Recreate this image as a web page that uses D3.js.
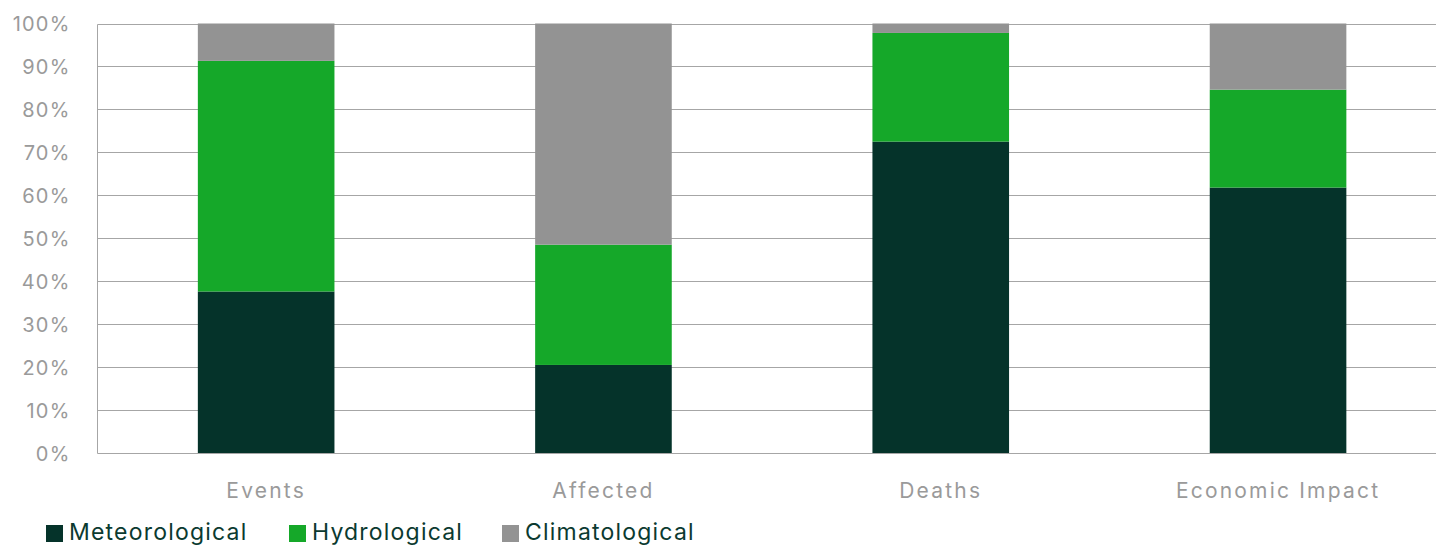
<!DOCTYPE html>
<html>
<head>
<meta charset="utf-8">
<script src="https://cdn.jsdelivr.net/npm/d3@7"></script>
<style>
  html, body { margin: 0; padding: 0; background: #fff; overflow: hidden; }
  svg { display: block; }
</style>
</head>
<body>
<svg id="chart" width="1436" height="546"></svg>
<script>
// Share of disasters by type (percent of total per measure)
const categories = ["Events", "Affected", "Deaths", "Economic Impact"];
const meteorological = [37.6, 20.5, 72.5, 61.8];
const hydrological   = [53.7, 28.0, 25.3, 22.8];
const climatological = [8.7, 51.5, 2.2, 15.4];
const seriesNames = ["Meteorological", "Hydrological", "Climatological"];
const seriesColors = ["#05332a", "#15a829", "#939393"];
const yTicks = [0, 10, 20, 30, 40, 50, 60, 70, 80, 90, 100];

const rows = categories.map((c, i) => ({
  category: c,
  Meteorological: meteorological[i],
  Hydrological: hydrological[i],
  Climatological: climatological[i]
}));

const svg = d3.select("#chart");
const W = 1436;
const plotLeft = 97.5, plotRight = 1446.7, plotTop = 23.5, plotBottom = 453;

const x = d3.scaleBand()
  .domain(categories)
  .range([plotLeft, plotRight])
  .paddingInner(0.595)
  .paddingOuter(0.2975);

const y = d3.scaleLinear().domain([0, 100]).range([plotBottom, plotTop]);

const font = "Inter, 'Noto Sans', sans-serif";

// Gridlines
svg.append("g")
  .selectAll("line")
  .data(yTicks)
  .join("line")
  .attr("x1", plotLeft)
  .attr("x2", W)
  .attr("y1", d => Math.round(y(d)) + 0.5)
  .attr("y2", d => Math.round(y(d)) + 0.5)
  .attr("stroke", "#a6a6a6")
  .attr("stroke-width", 1);

// Left axis line
svg.append("line")
  .attr("x1", plotLeft).attr("x2", plotLeft)
  .attr("y1", Math.round(y(100)) + 0.5).attr("y2", Math.round(y(0)) + 0.5)
  .attr("stroke", "#a6a6a6");

// Y-axis labels
const yAxis = d3.axisLeft(y).tickValues(yTicks).tickFormat(d => d + "%").tickSize(0).tickPadding(27);
const yg = svg.append("g").attr("transform", `translate(${plotLeft},0)`).call(yAxis);
yg.select(".domain").remove();
yg.selectAll("text")
  .attr("fill", "#9a9a9a")
  .style("font-family", font)
  .style("font-size", "20px")
  .style("letter-spacing", "1.2px")
  .attr("dy", "0.35em");

// Stacked bars
const stack = d3.stack().keys(seriesNames);
const layers = stack(rows);

svg.append("g")
  .selectAll("g")
  .data(layers)
  .join("g")
  .attr("fill", (d, i) => seriesColors[i])
  .selectAll("rect")
  .data(d => d)
  .join("rect")
  .attr("x", d => x(d.data.category))
  .attr("width", x.bandwidth())
  .attr("y", d => y(d[1]))
  .attr("height", d => y(d[0]) - y(d[1]));

// X-axis labels
const xAxis = d3.axisBottom(x).tickSize(0).tickPadding(30);
const xg = svg.append("g").attr("transform", `translate(0,${plotBottom})`).call(xAxis);
xg.select(".domain").remove();
xg.selectAll("text")
  .attr("fill", "#9a9a9a")
  .style("font-family", font)
  .style("font-size", "21px")
  .style("letter-spacing", "2.2px");

// Legend
const legendX = [46, 289, 502];
const lg = svg.append("g")
  .selectAll("g")
  .data(seriesNames)
  .join("g")
  .attr("transform", (d, i) => `translate(${legendX[i]},525)`);
lg.append("rect")
  .attr("width", 17).attr("height", 17)
  .attr("fill", (d, i) => seriesColors[i]);
lg.append("text")
  .attr("x", 23)
  .attr("y", 15)
  .attr("fill", "#0b3a30")
  .style("font-family", font)
  .style("font-size", "23px")
  .style("letter-spacing", "1.2px")
  .text(d => d);
</script>
</body>
</html>
